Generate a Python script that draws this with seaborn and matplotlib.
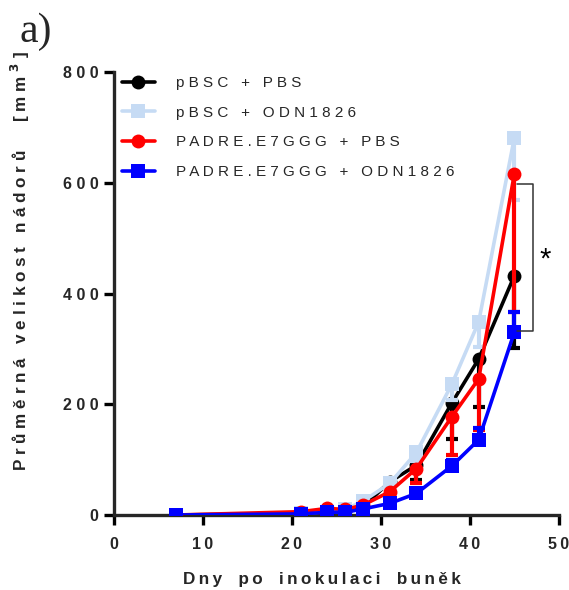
import matplotlib
matplotlib.use("Agg")
import matplotlib.pyplot as plt
import seaborn as sns
import pandas as pd
import numpy as np

days = [7, 21, 24, 26, 28, 31, 34, 38, 41, 45]
pbsc_pbs = [0, 3, 6, 8, 15, 60, 90, 203, 282, 432]
pbsc_odn = [0, 3, 6, 10, 25, 57, 113, 237, 349, 681]
padre_pbs = [0, 6, 12, 10, 18, 42, 84, 178, 246, 616]
padre_odn = [0, 2, 5, 5, 11, 21, 39, 89, 136, 330]

pbsc_pbs_err_lo = [0, 1, 2, 2, 4, 8, 27, 66, 86, 131]
pbsc_odn_err_lo = [0, 1, 2, 2, 4, 8, 15, 30, 45, 112]
padre_pbs_err_lo = [0, 1, 2, 2, 4, 6, 27, 70, 92, 250]
padre_odn_err_hi = [0, 1, 1, 1, 2, 4, 6, 10, 22, 36]

labels = ["pBSC + PBS", "pBSC + ODN1826", "PADRE.E7GGG + PBS", "PADRE.E7GGG + ODN1826"]
colors = ["#000000", "#C6DBF4", "#FF0000", "#0000FF"]
markers = ["o", "s", "o", "s"]
x_ticks = [0, 10, 20, 30, 40, 50]
y_ticks = [0, 200, 400, 600, 800]

def spaced(s, sep=" ", word_gap="   "):
    return word_gap.join(sep.join(list(w)) for w in s.split(" "))

sns.set_style("ticks")
plt.rcParams['font.family'] = ['Liberation Sans', 'DejaVu Sans']

fig = plt.figure(figsize=(5.69, 5.90), dpi=100)
ax = fig.add_axes([0.2004, 0.1271, 0.7816, 0.7504])

series = [pbsc_pbs, pbsc_odn, padre_pbs, padre_odn]
n = len(days)
errs = [
    [np.array(pbsc_pbs_err_lo), np.zeros(n)],
    [np.array(pbsc_odn_err_lo), np.zeros(n)],
    [np.array(padre_pbs_err_lo), np.zeros(n)],
    [np.zeros(n), np.array(padre_odn_err_hi)],
]

for i, (vals, lab, col, mk, e) in enumerate(zip(series, labels, colors, markers, errs)):
    z = 2 + i * 2
    ax.errorbar(days, vals, yerr=e, fmt="none", ecolor=col, elinewidth=3,
                capsize=4, capthick=3, zorder=z)
    df = pd.DataFrame({"day": days, "vol": vals})
    sns.lineplot(data=df, x="day", y="vol", ax=ax, color=col, marker=mk,
                 markersize=10, markeredgewidth=0, linewidth=2.6,
                 label=spaced(lab, word_gap="   "), zorder=z + 1)

# significance bracket
ax.plot([45.3, 47.1, 47.1, 45.3], [598, 598, 333, 333], color="#333333", lw=1.1,
        zorder=20, clip_on=False)
ax.text(48.5, 462, "*", fontsize=21, ha="center", va="center", color="black")

ax.set_xlim(0, 50)
ax.set_ylim(0, 800)
ax.set_xticks(x_ticks)
ax.set_yticks(y_ticks)
ax.set_xticklabels([spaced(str(t), sep="\u2009") for t in x_ticks], fontsize=11.5,
                   fontweight="bold")
ax.set_yticklabels([spaced(str(t)) for t in y_ticks], fontsize=11.5, fontweight="bold")
for s in ["top", "right"]:
    ax.spines[s].set_visible(False)
for s in ["left", "bottom"]:
    ax.spines[s].set_linewidth(2.4)
ax.tick_params(axis="both", width=2.4, length=7, direction="out", color="black")
ax.tick_params(axis="x", pad=9)
ax.tick_params(axis="y", pad=4)

ax.set_xlabel(spaced("Dny po inokulaci buněk", sep="\u2009", word_gap="\u2009  \u2009"),
              fontsize=12.3, fontweight="bold")
ax.xaxis.set_label_coords(0.468, -0.128)
ax.set_ylabel(spaced("Průměrná velikost nádorů") + "      [ m m $^{\\mathbf{3}}$ ]",
              fontsize=12.3, fontweight="bold")
ax.yaxis.set_label_coords(-0.184, 0.575)

leg = ax.legend(loc="upper left", bbox_to_anchor=(0.004, 1.005), frameon=False,
                prop={"size": 11}, handlelength=2.15, handletextpad=1.4, labelspacing=1.02,
                borderaxespad=0)

fig.text(0.034, 0.947, "a)", fontsize=30, family=["Liberation Serif", "DejaVu Serif"],
         ha="left", va="center")

fig.savefig("out.png", dpi=100)
